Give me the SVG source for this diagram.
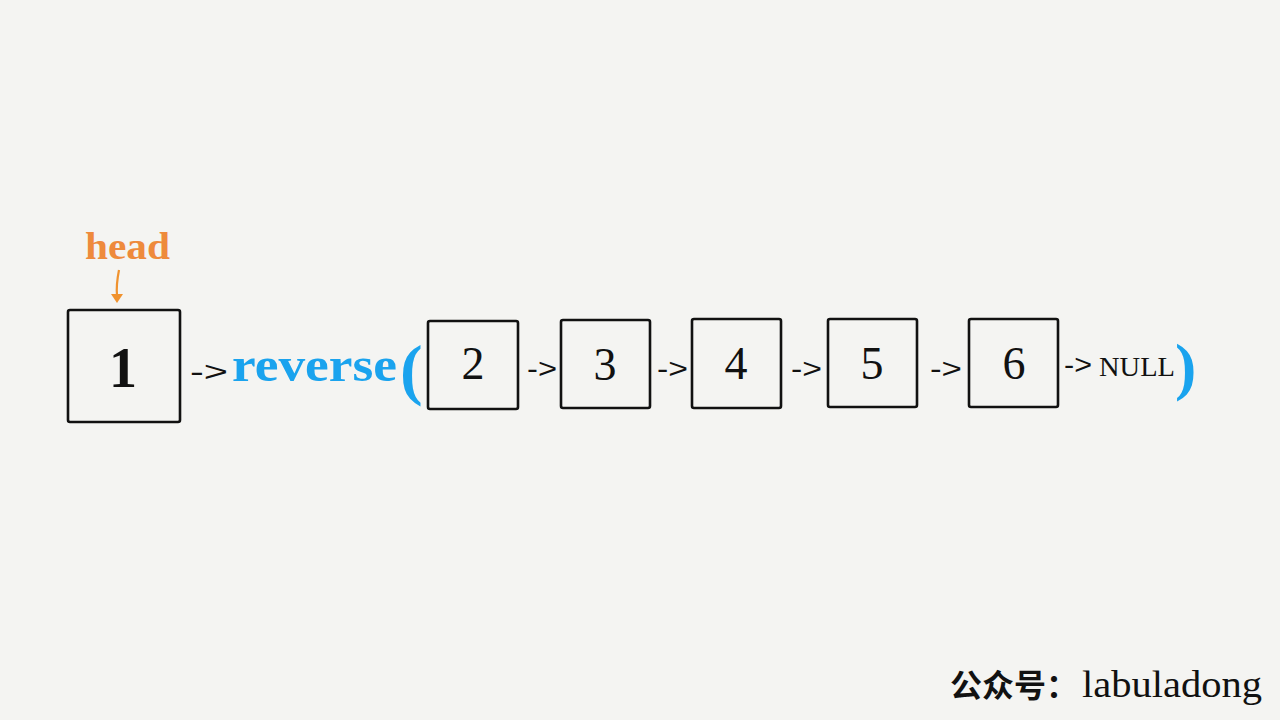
<svg xmlns="http://www.w3.org/2000/svg" width="1280" height="720" viewBox="0 0 1280 720">
<style>
.box{fill:none;stroke:#111;stroke-width:2.6}
.num{font-family:"Liberation Serif","DejaVu Serif",serif;fill:#111;text-anchor:middle}
.arr{font-family:"Liberation Sans","DejaVu Sans",sans-serif;fill:#111;font-size:28px;lengthAdjust:spacingAndGlyphs}
.blue{fill:#1AA3EE;font-family:"Liberation Serif","DejaVu Serif",serif;font-weight:bold}
</style>
<rect width="1280" height="720" fill="#F4F4F2"/>
<g id="head">
<text x="85" y="259" font-family="Liberation Serif,serif" font-size="38" font-weight="bold" fill="#EE8A3C" textLength="85" lengthAdjust="spacingAndGlyphs">head</text>
</g>
<g id="connectors">
<path d="M119,270 Q116,285 117,296" fill="none" stroke="#F0922E" stroke-width="2.2"/>
<path d="M111,294 L117,303 L123,294 Z" fill="#F0922E"/>
<text class="arr" x="190" y="381" font-size="32" textLength="38" lengthAdjust="spacingAndGlyphs">-&gt;</text>
<text class="arr" x="527" y="378" textLength="30" lengthAdjust="spacingAndGlyphs">-&gt;</text>
<text class="arr" x="657" y="378" textLength="31" lengthAdjust="spacingAndGlyphs">-&gt;</text>
<text class="arr" x="791" y="378" textLength="31" lengthAdjust="spacingAndGlyphs">-&gt;</text>
<text class="arr" x="930" y="378" textLength="32" lengthAdjust="spacingAndGlyphs">-&gt;</text>
<text class="arr" x="1064" y="374" font-size="24" textLength="28" lengthAdjust="spacingAndGlyphs">-&gt;</text>
</g>
<g id="node1"><rect class="box" x="68" y="310" width="112" height="112" rx="2"/><text class="num" x="123" y="387" font-size="56" font-weight="bold">1</text></g>
<g id="reverse">
<text class="blue" x="232" y="381" font-size="48" textLength="165" lengthAdjust="spacingAndGlyphs">reverse</text>
<text class="blue" x="400" y="392" font-size="68" font-weight="normal">(</text>
<text class="blue" x="1175" y="388" font-size="64" font-weight="normal">)</text>
</g>
<g id="node2"><rect class="box" x="428" y="321" width="90" height="88" rx="2"/><text class="num" x="473" y="379" font-size="46">2</text></g>
<g id="node3"><rect class="box" x="561" y="320" width="89" height="88" rx="2"/><text class="num" x="605" y="380" font-size="46">3</text></g>
<g id="node4"><rect class="box" x="692" y="319" width="89" height="89" rx="2"/><text class="num" x="736" y="379" font-size="46">4</text></g>
<g id="node5"><rect class="box" x="828" y="319" width="89" height="88" rx="2"/><text class="num" x="872" y="379" font-size="46">5</text></g>
<g id="node6"><rect class="box" x="969" y="319" width="89" height="88" rx="2"/><text class="num" x="1014" y="379" font-size="46">6</text></g>
<g id="null"><text x="1099" y="376" font-family="Liberation Serif,serif" font-size="28" fill="#111" textLength="76" lengthAdjust="spacingAndGlyphs">NULL</text></g>
<g id="footer">
<text x="950" y="697" font-family="Noto Sans CJK SC,sans-serif" font-weight="bold" font-size="32" fill="#111">公众号：</text>
<text x="1082" y="697" font-family="Liberation Serif,serif" font-size="38" fill="#111" textLength="180" lengthAdjust="spacingAndGlyphs">labuladong</text>
</g>
</svg>
